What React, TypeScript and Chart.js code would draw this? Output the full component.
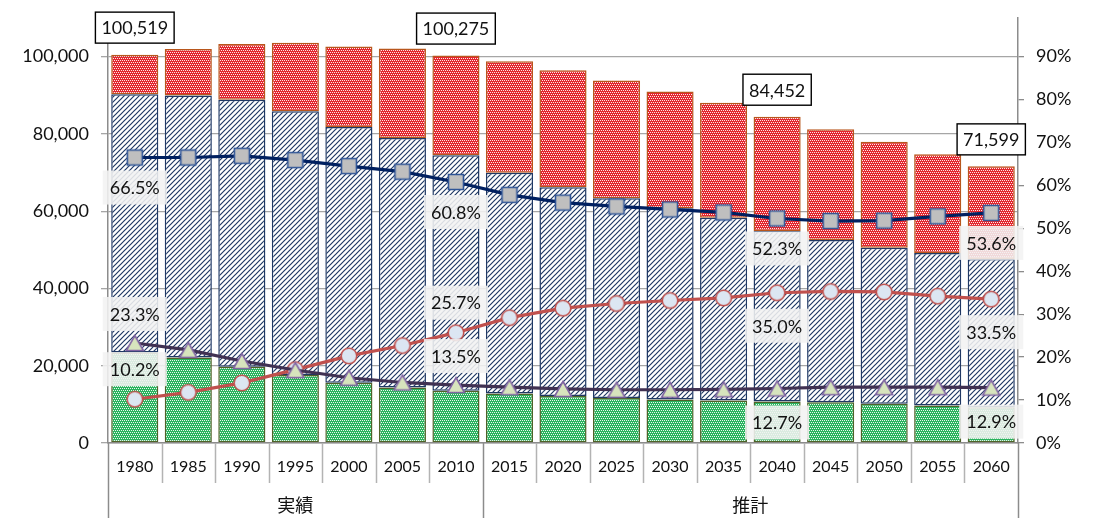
import { useEffect, useRef } from "react";
import { Chart, registerables } from "chart.js";
Chart.register(...registerables);

const years = ["1980", "1985", "1990", "1995", "2000", "2005", "2010", "2015", "2020", "2025", "2030", "2035", "2040", "2045", "2050", "2055", "2060"];
const young = [23421, 22134, 19730, 17612, 15603, 14396, 13537, 12844, 12154, 11631, 11279, 11005, 10725, 10556, 10140, 9718, 9236];
const working = [66845, 67830, 69108, 68272, 66209, 64527, 60967, 57106, 54018, 51684, 49482, 47277, 44168, 41980, 40404, 39468, 38377];
const elderly = [10253, 12036, 14462, 17716, 20838, 23177, 25771, 28850, 30288, 30485, 30199, 29758, 29559, 28664, 27456, 25564, 23986];
const totals = [100519, 102000, 103300, 103600, 102650, 102100, 100275, 98800, 96460, 93800, 90960, 88040, 84452, 81200, 78000, 74750, 71599];
const workingPct = [66.5, 66.5, 66.9, 65.9, 64.5, 63.2, 60.8, 57.8, 56.0, 55.1, 54.4, 53.7, 52.3, 51.7, 51.8, 52.8, 53.6];
const elderlyPct = [10.2, 11.8, 14.0, 17.1, 20.3, 22.7, 25.7, 29.2, 31.4, 32.5, 33.2, 33.8, 35.0, 35.3, 35.2, 34.2, 33.5];
const youngPct = [23.3, 21.7, 19.1, 17.0, 15.2, 14.1, 13.5, 13.0, 12.6, 12.4, 12.4, 12.5, 12.7, 13.0, 13.0, 13.0, 12.9];
const labelIdx = [0, 6, 12, 16];
const groups = [
  { label: "実績", from: 0, to: 6 },
  { label: "推計", from: 7, to: 16 },
];
const leftTicks = [0, 20000, 40000, 60000, 80000, 100000];
const rightTicks = [0, 10, 20, 30, 40, 50, 60, 70, 80, 90];

const FONT = "Lato, 'Open Sans', sans-serif";

function dotPattern(base: string) {
  const c = document.createElement("canvas");
  c.width = 4;
  c.height = 4;
  const g = c.getContext("2d")!;
  g.fillStyle = base;
  g.fillRect(0, 0, 4, 4);
  g.fillStyle = "rgba(255,255,255,0.9)";
  g.fillRect(0, 0, 1, 1);
  g.fillRect(2, 0, 1, 1);
  g.fillRect(1, 2, 1, 1);
  g.fillRect(3, 2, 1, 1);
  return g.createPattern(c, "repeat")!;
}

function hatchPattern(color: string) {
  const s = 5;
  const c = document.createElement("canvas");
  c.width = s;
  c.height = s;
  const g = c.getContext("2d")!;
  g.fillStyle = "#ffffff";
  g.fillRect(0, 0, s, s);
  g.strokeStyle = color;
  g.lineWidth = 1.2;
  g.beginPath();
  g.moveTo(-s, s);
  g.lineTo(s, -s);
  g.moveTo(0, s);
  g.lineTo(s, 0);
  g.moveTo(0, 2 * s);
  g.lineTo(2 * s, 0);
  g.stroke();
  return g.createPattern(c, "repeat")!;
}

function marker(kind: string, fill: string, stroke: string) {
  const c = document.createElement("canvas");
  const w = 20;
  c.width = w;
  c.height = w;
  const g = c.getContext("2d")!;
  g.fillStyle = fill;
  g.strokeStyle = stroke;
  g.lineWidth = 1.6;
  g.beginPath();
  if (kind === "rect") {
    g.rect(2.5, 2.5, 15, 15);
  } else if (kind === "circle") {
    g.arc(10, 10, 7.8, 0, Math.PI * 2);
  } else {
    g.moveTo(10, 2.5);
    g.lineTo(18.5, 17.5);
    g.lineTo(1.5, 17.5);
    g.closePath();
  }
  g.fill();
  g.stroke();
  return c;
}

export default function App() {
  const ref = useRef<HTMLCanvasElement>(null);
  useEffect(() => {
    document.body.style.margin = "0";
    const canvas = ref.current!;
    const redP = dotPattern("#e3262e");
    const greenP = dotPattern("#2ab35e");
    const blueP = hatchPattern("#1f3864");

    const labelsPlugin = {
      id: "labelsPlugin",
      afterDatasetsDraw(chart: any) {
        const { ctx } = chart;
        const y = chart.scales.y;
        const y1 = chart.scales.y1;
        const x = chart.scales.x;
        ctx.save();
        ctx.font = `18px ${FONT}`;
        ctx.textAlign = "center";
        ctx.textBaseline = "middle";
        labelIdx.forEach((i) => {
          const cx = x.getPixelForValue(i);
          const cy = y.getPixelForValue(totals[i]) - 27;
          const t = totals[i].toLocaleString("en-US");
          const tw = ctx.measureText(t).width;
          const bw = tw + 12;
          const bh = 31;
          ctx.fillStyle = "#ffffff";
          ctx.fillRect(cx - bw / 2, cy - bh / 2, bw, bh);
          ctx.strokeStyle = "#000000";
          ctx.lineWidth = 1.4;
          ctx.strokeRect(cx - bw / 2, cy - bh / 2, bw, bh);
          ctx.fillStyle = "#111111";
          ctx.fillText(t, cx, cy + 1);
        });
        const pctBox = (cx: number, cy: number, t: string) => {
          const tw = ctx.measureText(t).width;
          const bw = tw + 14;
          const bh = 34;
          ctx.fillStyle = "rgba(242,242,242,0.88)";
          ctx.fillRect(cx - bw / 2, cy - bh / 2, bw, bh);
          ctx.fillStyle = "#111111";
          ctx.fillText(t, cx, cy + 1);
        };
        labelIdx.forEach((i, k) => {
          const cx = x.getPixelForValue(i);
          pctBox(cx, y1.getPixelForValue(workingPct[i]) + 30, workingPct[i].toFixed(1) + "%");
          const below = k >= 2;
          pctBox(cx, y1.getPixelForValue(elderlyPct[i]) + (below ? 33 : -30), elderlyPct[i].toFixed(1) + "%");
          pctBox(cx, y1.getPixelForValue(youngPct[i]) + (below ? 34 : -29), youngPct[i].toFixed(1) + "%");
        });
        ctx.restore();
      },
      afterDraw(chart: any) {
        const { ctx, chartArea } = chart;
        const x = chart.scales.x;
        const n = years.length;
        const half = (x.getPixelForValue(1) - x.getPixelForValue(0)) / 2;
        const bound = (i: number) => x.getPixelForValue(i) - half;
        ctx.save();
        for (let i = 0; i <= n; i++) {
          const px = Math.round(bound(i)) + 0.5;
          const long = i === 0 || i === n || groups.some((g) => g.from === i);
          ctx.strokeStyle = long ? "#8c8c8c" : "#b3b3b3";
          ctx.lineWidth = 1.5;
          ctx.beginPath();
          ctx.moveTo(px, chartArea.bottom);
          ctx.lineTo(px, long ? 518 : 483);
          ctx.stroke();
        }
        ctx.font = `18px 'Noto Sans CJK JP', sans-serif`;
        ctx.fillStyle = "#111111";
        ctx.textAlign = "center";
        ctx.textBaseline = "middle";
        groups.forEach((g) => {
          const cx = (bound(g.from) + bound(g.to + 1)) / 2;
          ctx.fillText(g.label, cx, 505);
        });
        ctx.restore();
      },
    };

    const barCommon = {
      type: "bar" as const,
      yAxisID: "y",
      stack: "pop",
      borderWidth: 1.5,
      borderSkipped: false,
      barPercentage: 0.88,
      categoryPercentage: 1,
      order: 2,
    };
    const lineCommon = {
      type: "line" as const,
      yAxisID: "y1",
      borderWidth: 3.2,
      pointRadius: 9,
      tension: 0,
      order: 0,
      fill: false,
    };

    const chart = new Chart(canvas, {
      type: "bar",
      data: {
        labels: years,
        datasets: [
          { ...barCommon, label: "年少人口", data: young, backgroundColor: greenP, borderColor: "#4f6228" },
          { ...barCommon, label: "生産年齢人口", data: working, backgroundColor: blueP, borderColor: "#1f3864" },
          { ...barCommon, label: "老年人口", data: elderly, backgroundColor: redP, borderColor: "#b8561c" },
          {
            ...lineCommon,
            label: "生産年齢人口割合",
            data: workingPct,
            borderColor: "#002060",
            pointStyle: marker("rect", "#bfbfbf", "#2f5597"),
          },
          {
            ...lineCommon,
            label: "年少人口割合",
            data: youngPct,
            borderColor: "#403152",
            pointStyle: marker("tri", "#d7e4bd", "#8064a2"),
          },
          {
            ...lineCommon,
            label: "老年人口割合",
            data: elderlyPct,
            borderColor: "#c0504d",
            pointStyle: marker("circle", "#dce6f2", "#c0504d"),
          },
        ] as any,
      },
      options: {
        responsive: false,
        animation: false,
        devicePixelRatio: 1,
        layout: { padding: { top: 18, left: 0, right: 0, bottom: 0 } },
        plugins: { legend: { display: false }, tooltip: { enabled: false } },
        scales: {
          x: {
            stacked: true,
            offset: true,
            grid: { display: false, drawTicks: false },
            border: { display: true, color: "#8c8c8c", width: 1.5 },
            ticks: { font: { family: FONT, size: 16 }, color: "#111111", padding: 14, maxRotation: 0, autoSkip: false },
            afterFit: (s: any) => {
              s.height = 75;
              s.paddingLeft = 0;
              s.paddingRight = 0;
            },
          },
          y: {
            stacked: true,
            position: "left",
            min: 0,
            max: 110000,
            afterBuildTicks: (s: any) => {
              s.ticks = leftTicks.map((v) => ({ value: v }));
            },
            grid: { color: "#a6a6a6", lineWidth: 1.3, tickLength: 7, drawTicks: true },
            border: { display: true, color: "#8c8c8c", width: 1.5 },
            ticks: {
              font: { family: FONT, size: 18 },
              color: "#111111",
              padding: 12,
              callback: (v: any) => Number(v).toLocaleString("en-US"),
            },
            afterFit: (s: any) => {
              s.width = 108;
              s.paddingTop = 0;
              s.paddingBottom = 0;
            },
          },
          y1: {
            position: "right",
            min: 0,
            max: 99,
            afterBuildTicks: (s: any) => {
              s.ticks = rightTicks.map((v) => ({ value: v }));
            },
            grid: { drawOnChartArea: false, color: "#8c8c8c", tickLength: 6, lineWidth: 1.3 },
            border: { display: true, color: "#8c8c8c", width: 1.5 },
            ticks: {
              font: { family: FONT, size: 18 },
              color: "#111111",
              padding: 12,
              callback: (v: any) => v + "%",
            },
            afterFit: (s: any) => {
              s.width = 79;
              s.paddingTop = 0;
              s.paddingBottom = 0;
            },
          },
        },
      } as any,
      plugins: [labelsPlugin],
    });
    return () => chart.destroy();
  }, []);
  return <canvas ref={ref} width={1097} height={518} style={{ display: "block", width: 1097, height: 518 }} />;
}
